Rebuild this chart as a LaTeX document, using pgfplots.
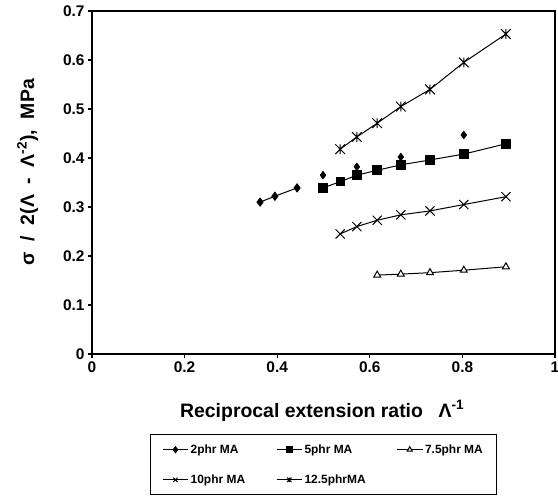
\documentclass[border=0pt]{standalone}
\usepackage{fontspec}
\setmainfont{Liberation Sans}
\usepackage{pgfplots}
\pgfplotsset{compat=1.18}

% x with a vertical bar, as the 12.5phr marker
\pgfdeclareplotmark{xbar}{%
  \pgfpathmoveto{\pgfqpoint{-0.75\pgfplotmarksize}{-0.75\pgfplotmarksize}}%
  \pgfpathlineto{\pgfqpoint{0.75\pgfplotmarksize}{0.75\pgfplotmarksize}}%
  \pgfpathmoveto{\pgfqpoint{-0.75\pgfplotmarksize}{0.75\pgfplotmarksize}}%
  \pgfpathlineto{\pgfqpoint{0.75\pgfplotmarksize}{-0.75\pgfplotmarksize}}%
  \pgfpathmoveto{\pgfqpoint{0pt}{-0.75\pgfplotmarksize}}%
  \pgfpathlineto{\pgfqpoint{0pt}{0.75\pgfplotmarksize}}%
  \pgfusepathqstroke}

\begin{document}
\begin{tikzpicture}
\begin{axis}[
  scale only axis,
  width=463bp, height=343bp,
  xmin=0, xmax=1, ymin=0, ymax=0.7,
  xtick={0,0.2,0.4,0.6,0.8,1},
  ytick={0,0.1,0.2,0.3,0.4,0.5,0.6,0.7},
  yticklabels={0,0.1,0.2,0.3,0.4,0.5,0.6,0.7},
  xticklabels={0,0.2,0.4,0.6,0.8,1},
  tick align=outside,
  xtick pos=bottom, ytick pos=left,
  major tick length=4bp,
  axis line style={line width=1.6pt},
  every tick/.style={black, line width=1.2pt},
  ticklabel style={font=\fontsize{15.5}{17}\selectfont\bfseries},
  xlabel={Reciprocal extension ratio\hspace{0.8em}Λ\textsuperscript{-1}},
  ylabel={σ\hspace{0.55em}/\hspace{0.55em}2(Λ\hspace{0.55em}-\hspace{0.55em}Λ\textsuperscript{-2}),\hspace{0.55em}MPa},
  label style={font=\fontsize{19.5}{21}\selectfont\bfseries},
  xlabel style={at={(axis description cs:0.497,-0.125)}, anchor=north},
  ylabel style={at={(axis description cs:-0.139,0.53)}, anchor=center},
  legend style={at={(0.5,-0.234)}, anchor=north, draw=black, line width=0.8pt,
    font=\fontsize{12}{14}\selectfont\bfseries, legend columns=3,
    inner xsep=12pt, inner ysep=8pt, row sep=16pt,
    /tikz/every even column/.append style={column sep=29pt}},
  legend cell align=left,
  legend image code/.code={%
    \draw[mark repeat=2,mark phase=2,#1] plot coordinates {(0cm,0cm) (0.45cm,0cm) (0.9cm,0cm)};},
  legend image post style={mark size=3pt},
]
% 2phr MA
\addplot[black, line width=1pt, mark=diamond*, mark size=4pt, mark options={fill=black}] coordinates {
  (0.363,0.310) (0.395,0.322) (0.443,0.339)
};
\addlegendentry{2phr MA}
% 5phr MA
\addplot[black, line width=1pt, mark=square*, mark size=4.3pt, mark options={fill=black}] coordinates {
  (0.499,0.339) (0.537,0.352) (0.572,0.365) (0.616,0.375)
  (0.667,0.386) (0.730,0.396) (0.803,0.408) (0.894,0.429)
};
\addlegendentry{5phr MA}
% 7.5phr MA
\addplot[black, line width=1pt, mark=triangle*, mark size=4pt, mark options={fill=white, solid}] coordinates {
  (0.616,0.161) (0.667,0.163) (0.730,0.166) (0.803,0.171) (0.894,0.178)
};
\addlegendentry{7.5phr MA}
% 10phr MA
\addplot[black, line width=1pt, mark=x, mark size=6.5pt] coordinates {
  (0.536,0.245) (0.572,0.260) (0.616,0.273) (0.667,0.284)
  (0.730,0.292) (0.803,0.305) (0.894,0.321)
};
\addlegendentry{10phr MA}
% 12.5phr MA
\addplot[black, line width=1pt, mark=xbar, mark size=6.5pt] coordinates {
  (0.536,0.418) (0.572,0.443) (0.616,0.471) (0.667,0.505)
  (0.730,0.540) (0.803,0.595) (0.894,0.653)
};
\addlegendentry{12.5phrMA}
% 2phr MA, further points without line
\addplot[black, only marks, forget plot, mark=diamond*, mark size=4pt, mark options={fill=black}] coordinates {
  (0.499,0.365) (0.572,0.382) (0.667,0.402) (0.803,0.447)
};
\end{axis}
\pgfresetboundingbox
\path[use as bounding box] ([xshift=-92bp,yshift=-144bp]current axis.south west) rectangle ([xshift=3bp,yshift=11bp]current axis.north east);
\end{tikzpicture}
\end{document}
